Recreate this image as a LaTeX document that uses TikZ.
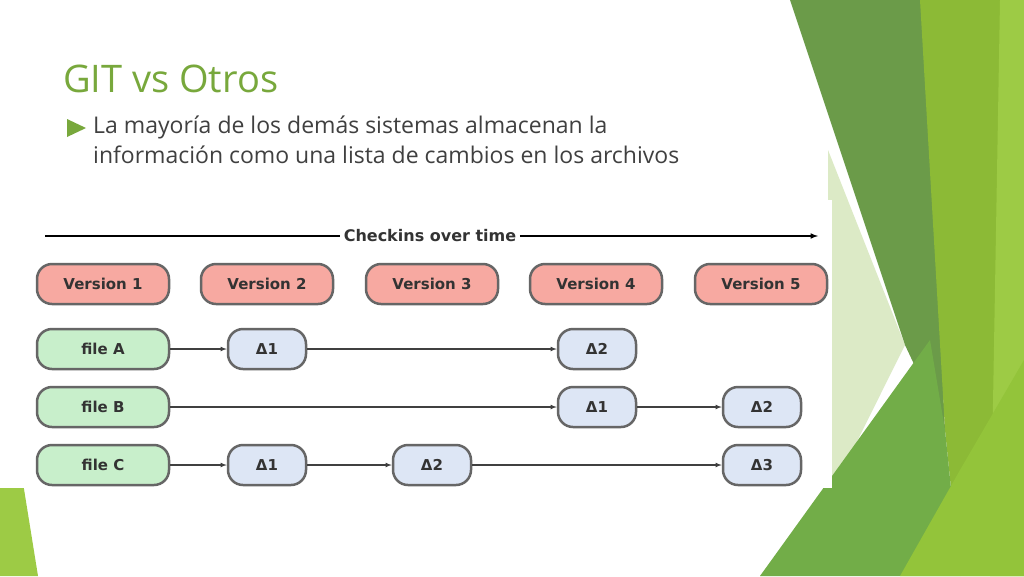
\documentclass[tikz,border=0pt]{standalone}
\usepackage{fontspec}
\setmainfont{Open Sans}
\newfontfamily\diag{DejaVu Sans}
\definecolor{gdark}{HTML}{6B9B49}
\definecolor{gbright}{HTML}{8CBA36}
\definecolor{glight}{HTML}{9DCB45}
\definecolor{gpale}{HTML}{DCEAC6}
\definecolor{glow}{HTML}{72AD48}
\definecolor{glow2}{HTML}{93C43A}
\definecolor{gtitle}{HTML}{78A83C}
\definecolor{vfill}{HTML}{F7A9A1}
\definecolor{ffill}{HTML}{C8EFCB}
\definecolor{dfill}{HTML}{DDE6F5}
\begin{document}
\begin{tikzpicture}[x=1pt,y=-1pt,
  box/.style={draw=black!60,line width=2.5pt,rounded corners=15pt,minimum height=40pt,font=\diag\bfseries\fontsize{15}{17}\selectfont,text=black!80},
  ver/.style={box,fill=vfill,minimum width=132pt},
  fil/.style={box,fill=ffill,minimum width=132pt},
  del/.style={box,fill=dfill,minimum width=78pt},
  con/.style={draw=black!75,line width=1.1pt,-latex}]
\useasboundingbox (0,0) rectangle (1024,576);
\fill[white] (0,0) rectangle (1024,576);
% decoration
\fill[gpale] (828,150) -- (905,345) -- (790,576) -- (760,576) -- (828,488) -- cycle;
\fill[gdark] (790,0) -- (925,0) -- (945,430) -- (905,345) -- cycle;
\fill[gbright] (920,0) -- (1024,0) -- (1024,576) -- (960,576) -- (945,430) -- cycle;
\fill[glight] (1000,0) -- (1024,0) -- (1024,576) -- (990,576) -- cycle;
\fill[glow] (760,576) -- (930,340) -- (945,430) -- (960,576) -- cycle;
\fill[glow2] (900,576) -- (960,470) -- (1024,360) -- (1024,576) -- cycle;
\fill[glight] (0,340) -- (38,576) -- (0,576) -- cycle;
\fill[white] (0,200) rectangle (832,488);
% title
\node[anchor=base west,inner sep=0pt,text=gtitle,font=\fontsize{38}{44}\selectfont] (title) at (63,92) {GIT vs Otros};
\fill[gtitle] (67,119) -- (86,128) -- (67,137) -- cycle;
\node[anchor=north west,inner sep=0pt,align=left,text=black!75,font=\fontsize{23}{30}\selectfont] (txt) at (93,116) {La mayoría de los demás sistemas almacenan la\\información como una lista de cambios en los archivos};
% diagram
\node[font=\diag\bfseries\fontsize{16}{18}\selectfont,text=black!80,fill=white] (chk) at (430,236) {Checkins over time};
\coordinate (cs) at (45,236); \coordinate (ce) at (818,236);
\draw[line width=1.5pt] (cs) -- (chk.west);
\draw[line width=1.5pt,-latex] (chk.east) -- (ce);
\node[ver] (v1) at (103,284) {Version 1};
\node[ver] (v2) at (267,284) {Version 2};
\node[ver] (v3) at (432,284) {Version 3};
\node[ver] (v4) at (596,284) {Version 4};
\node[ver] (v5) at (761,284) {Version 5};
\node[fil] (fa) at (103,349) {file A};
\node[fil] (fb) at (103,407) {file B};
\node[fil] (fc) at (103,465) {file C};
\node[del] (a1) at (267,349) {Δ1};
\node[del] (a2) at (597,349) {Δ2};
\node[del] (b1) at (597,407) {Δ1};
\node[del] (b2) at (762,407) {Δ2};
\node[del] (c1) at (267,465) {Δ1};
\node[del] (c2) at (432,465) {Δ2};
\node[del] (c3) at (762,465) {Δ3};
\draw[con] (fa) -- (a1); \draw[con] (a1) -- (a2);
\draw[con] (fb) -- (b1); \draw[con] (b1) -- (b2);
\draw[con] (fc) -- (c1); \draw[con] (c1) -- (c2); \draw[con] (c2) -- (c3);
\end{tikzpicture}
\end{document}
